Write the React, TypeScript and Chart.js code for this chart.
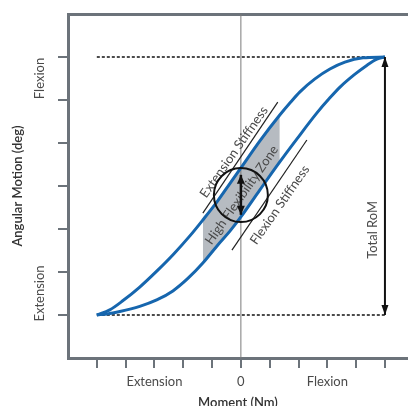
import React, { useEffect, useRef } from 'react';
import { Chart, registerables } from 'chart.js';

Chart.register(...registerables);
Chart.defaults.font.family = 'Lato, "Noto Sans", sans-serif';

// ---------------- data ----------------
// loading (upper) curve
const upperX = [-5, -4.55, -4.1, -3.51, -2.92, -2.33, -1.77, -1.32, -0.83, -0.42, 0, 0.66, 1.35, 1.7, 2.05, 2.57, 3.09, 3.61, 4.24, 5];
const upperY = [0, 0.12, 0.33, 0.65, 1.02, 1.42, 1.84, 2.21, 2.63, 3.02, 3.42, 4.05, 4.65, 4.93, 5.19, 5.49, 5.72, 5.88, 5.98, 6];
// unloading (lower) curve
const lowerX = [-5, -4.6, -4.2, -3.51, -2.92, -2.36, -1.84, -1.32, -0.8, -0.38, 0, 0.66, 1.35, 1.94, 2.64, 3.09, 3.44, 3.96, 4.38, 4.72, 5];
const lowerY = [0, 0.03, 0.08, 0.2, 0.35, 0.56, 0.85, 1.21, 1.63, 1.95, 2.28, 2.91, 3.56, 4.09, 4.7, 5.05, 5.3, 5.6, 5.81, 5.95, 6];
// high flexibility zone x-range
const zoneRange = [-1.32, 1.35];
// stiffness lines
const extLineX = [-1.32, 1.28];
const extLineY = [2.37, 4.95];
const flexLineX = [-0.31, 2.29];
const flexLineY = [1.51, 4.07];
// range of motion limits
const romLimits = [0, 6];
const romX = 5;
const curveXRange = [-5, 5];
// inner double arrow + circle
const innerArrowY = [2.33, 3.26];
const circleCenter = [0, 2.79];
// axes
const xTickPositions = [-5, -4, -3, -2, -1, 0, 1, 2, 3, 4, 5];
const xTickValues = [-3, 0, 3];
const xTickLabels = ['Extension', '0', 'Flexion'];
const yTickPositions = [0, 1, 2, 3, 4, 5, 6];
const yLabelValues = [0.5, 5.5];
const yLabelTexts = ['Extension', 'Flexion'];
// annotation texts
const noteTexts = ['Extension Stiffness', 'High Flexibility Zone', 'Flexion Stiffness', 'Total RoM'];
const noteX = [-0.24, 0.03, 1.35, 4.58];
const noteY = [3.79, 2.79, 2.56, 1.98];
const noteAngle = [-55, -55, -55, -90];

// ---------------- styles ----------------
const FRAME = '#6c737a';
const BLUE = '#1666ae';
const GRAY_FILL = '#b6bbc1';
const TEXT = '#4a4a4a';
const TITLE = '#333333';

const pts = (xs: number[], ys: number[]) => xs.map((x, i) => ({ x, y: ys[i] }));
const inRange = (xs: number[], ys: number[], lo: number, hi: number) =>
  pts(xs, ys).filter((p) => p.x >= lo - 1e-9 && p.x <= hi + 1e-9);

function drawHead(ctx: CanvasRenderingContext2D, tx: number, ty: number, fx: number, fy: number, len: number, half: number, color: string) {
  const dx = tx - fx;
  const dy = ty - fy;
  const d = Math.hypot(dx, dy) || 1;
  const ux = dx / d;
  const uy = dy / d;
  const bx = tx - ux * len;
  const by = ty - uy * len;
  ctx.save();
  ctx.fillStyle = color;
  ctx.beginPath();
  ctx.moveTo(tx, ty);
  ctx.lineTo(bx - uy * half, by + ux * half);
  ctx.lineTo(bx + uy * half, by - ux * half);
  ctx.closePath();
  ctx.fill();
  ctx.restore();
}

function drawText(ctx: CanvasRenderingContext2D, text: string, x: number, y: number, angle: number, font: string, color: string) {
  ctx.save();
  ctx.translate(x, y);
  ctx.rotate((angle * Math.PI) / 180);
  ctx.font = font;
  ctx.fillStyle = color;
  ctx.textAlign = 'center';
  ctx.textBaseline = 'middle';
  ctx.fillText(text, 0, 0);
  ctx.restore();
}

const annotationPlugin = {
  id: 'diagramNotes',
  afterDatasetDraw(chart: any, args: any) {
    const ds = chart.data.datasets[args.index];
    const { ctx, scales } = chart;
    if (ds.notesLayer) {
      const fam = Chart.defaults.font.family;
      noteTexts.forEach((t, i) => {
        drawText(ctx, t, scales.x.getPixelForValue(noteX[i]), scales.y.getPixelForValue(noteY[i]), noteAngle[i], `13px ${fam}`, TEXT);
      });
    }
    if (ds.arrowHeads) {
      const meta = chart.getDatasetMeta(args.index);
      const a = meta.data[0];
      const b = meta.data[meta.data.length - 1];
      drawHead(ctx, b.x, b.y, a.x, a.y, ds.headLen, ds.headHalf, ds.borderColor);
      drawHead(ctx, a.x, a.y, b.x, b.y, ds.headLen, ds.headHalf, ds.borderColor);
    }
  },
  afterDraw(chart: any) {
    const { ctx, scales, chartArea } = chart;
    const fam = Chart.defaults.font.family;
    yLabelValues.forEach((v, i) => {
      drawText(ctx, yLabelTexts[i], chartArea.left - 28, scales.y.getPixelForValue(v), -90, `13px ${fam}`, TEXT);
    });
  },
};

export default function App() {
  const ref = useRef<HTMLCanvasElement>(null);

  useEffect(() => {
    const canvas = ref.current;
    if (!canvas) return;

    const upper = pts(upperX, upperY);
    const lower = pts(lowerX, lowerY);

    const chart = new Chart(canvas, {
      type: 'line',
      data: {
        datasets: [
          {
            label: 'zoneTop',
            data: inRange(upperX, upperY, zoneRange[0], zoneRange[1]),
            borderWidth: 0,
            borderColor: 'rgba(0,0,0,0)',
            backgroundColor: GRAY_FILL,
            fill: '+1',
            cubicInterpolationMode: 'monotone',
            pointRadius: 0,
            order: 20,
          },
          {
            label: 'zoneBottom',
            data: inRange(lowerX, lowerY, zoneRange[0], zoneRange[1]),
            borderWidth: 0,
            borderColor: 'rgba(0,0,0,0)',
            fill: false,
            cubicInterpolationMode: 'monotone',
            pointRadius: 0,
            order: 21,
          },
          {
            label: 'zero',
            data: [{ x: 0, y: -1 }, { x: 0, y: 7 }],
            borderColor: '#7a7a7a',
            borderWidth: 1,
            pointRadius: 0,
            order: 18,
            notesLayer: true,
          },
          {
            label: 'maxLine',
            data: [{ x: curveXRange[0], y: romLimits[1] }, { x: curveXRange[1], y: romLimits[1] }],
            borderColor: '#111',
            borderWidth: 1.5,
            borderDash: [3, 2],
            pointRadius: 0,
            order: 15,
          },
          {
            label: 'minLine',
            data: [{ x: curveXRange[0], y: romLimits[0] }, { x: curveXRange[1], y: romLimits[0] }],
            borderColor: '#111',
            borderWidth: 1.5,
            borderDash: [3, 2],
            pointRadius: 0,
            order: 15,
          },
          {
            label: 'extStiff',
            data: pts(extLineX, extLineY),
            borderColor: '#222',
            borderWidth: 1.2,
            pointRadius: 0,
            order: 12,
          },
          {
            label: 'flexStiff',
            data: pts(flexLineX, flexLineY),
            borderColor: '#222',
            borderWidth: 1.2,
            pointRadius: 0,
            order: 12,
          },
          {
            label: 'upper',
            data: upper,
            borderColor: BLUE,
            borderWidth: 3,
            cubicInterpolationMode: 'monotone',
            pointRadius: 0,
            fill: false,
            order: 8,
          },
          {
            label: 'lower',
            data: lower,
            borderColor: BLUE,
            borderWidth: 3,
            cubicInterpolationMode: 'monotone',
            pointRadius: 0,
            fill: false,
            order: 8,
          },
          {
            label: 'circle',
            data: [{ x: circleCenter[0], y: circleCenter[1] }],
            showLine: false,
            pointRadius: 27,
            pointBorderWidth: 2,
            pointBorderColor: '#111',
            pointBackgroundColor: 'rgba(0,0,0,0)',
            order: 5,
          },
          {
            label: 'innerArrow',
            data: [{ x: circleCenter[0], y: innerArrowY[0] }, { x: circleCenter[0], y: innerArrowY[1] }],
            borderColor: '#111',
            borderWidth: 2.5,
            pointRadius: 0,
            arrowHeads: true,
            headLen: 9,
            headHalf: 4,
            order: 3,
          },
          {
            label: 'romArrow',
            data: [{ x: romX, y: romLimits[0] }, { x: romX, y: romLimits[1] }],
            borderColor: '#111',
            borderWidth: 2,
            pointRadius: 0,
            arrowHeads: true,
            headLen: 10,
            headHalf: 3.5,
            order: 3,
          },
        ] as any,
      },
      options: {
        animation: false,
        responsive: false,
        devicePixelRatio: 1,
        events: [],
        layout: { autoPadding: false, padding: { top: 14, right: 0, left: 0, bottom: 0 } },
        plugins: { legend: { display: false }, tooltip: { enabled: false } },
        scales: {
          x: {
            type: 'linear',
            position: 'bottom',
            min: -6,
            max: 5.8,
            afterBuildTicks: (s: any) => {
              s.ticks = xTickPositions.map((v) => ({ value: v }));
            },
            afterFit: (s: any) => {
              s.height = 48;
            },
            ticks: {
              autoSkip: false,
              maxRotation: 0,
              minRotation: 0,
              padding: 6,
              color: TEXT,
              font: { size: 13 },
              callback: (v: any) => {
                const i = xTickValues.indexOf(Number(v));
                return i >= 0 ? xTickLabels[i] : '';
              },
            },
            grid: { drawOnChartArea: false, drawTicks: true, tickLength: 10, color: FRAME, lineWidth: 2 },
            border: { display: true, color: FRAME, width: 3 },
            title: {
              display: true,
              text: 'Moment (Nm)',
              color: TITLE,
              font: { size: 13, weight: '600', lineHeight: 1 },
              padding: { top: 0, bottom: -3.5 },
            },
          },
          xTop: {
            type: 'linear',
            position: 'top',
            axis: 'x',
            min: -6,
            max: 5.8,
            display: true,
            afterFit: (s: any) => {
              s.height = 0;
            },
            ticks: { display: false },
            grid: { display: false, drawTicks: false, drawOnChartArea: false },
            border: { display: true, color: FRAME, width: 3 },
          },
          y: {
            type: 'linear',
            position: 'left',
            min: -1,
            max: 7,
            afterBuildTicks: (s: any) => {
              s.ticks = yTickPositions.map((v) => ({ value: v }));
            },
            afterFit: (s: any) => {
              s.width = 68;
            },
            ticks: { display: false },
            grid: { drawOnChartArea: false, drawTicks: true, tickLength: 10, color: FRAME, lineWidth: 2 },
            border: { display: true, color: FRAME, width: 3 },
            title: {
              display: true,
              text: 'Angular Motion (deg)',
              color: TITLE,
              font: { size: 13, weight: '600', lineHeight: 1 },
              padding: { top: 11.5, bottom: 0 },
            },
          },
        },
      } as any,
      plugins: [annotationPlugin as any],
    });

    return () => chart.destroy();
  }, []);

  return (
    <div style={{ position: 'absolute', left: 0, top: 0, width: 408, height: 406 }}>
      <canvas ref={ref} width={408} height={406} style={{ display: 'block', width: 408, height: 406 }} />
    </div>
  );
}
